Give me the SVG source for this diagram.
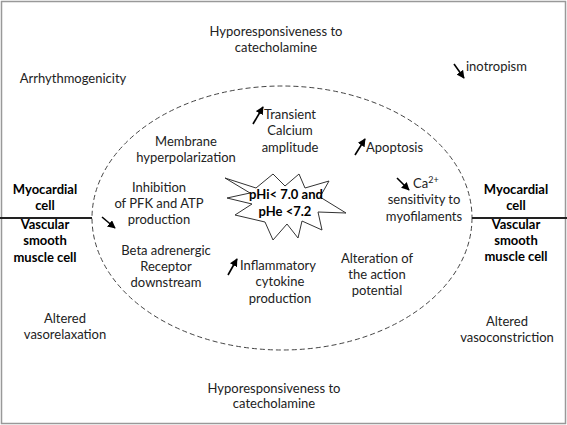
<svg xmlns="http://www.w3.org/2000/svg" width="567" height="425" viewBox="0 0 567 425">
<defs>
<marker id="ah" viewBox="0 0 10 10" refX="9" refY="5" markerWidth="5" markerHeight="5" orient="auto"><path d="M0,0 L10,5 L0,10 Z" fill="#000"/></marker>
<style>
text{font-family:Lato,"Liberation Sans",sans-serif;font-size:13px;fill:#222;text-anchor:middle}
.b{font-weight:bold;fill:#000}
.l{text-anchor:start}
.arr{stroke:#000;stroke-width:1.6;fill:none;marker-end:url(#ah)}
</style>
</defs>
<rect x="1.5" y="1.5" width="564" height="422" fill="#fff" stroke="#999" stroke-width="1.5"/>
<g id="connectors">
<ellipse cx="282" cy="218" rx="190" ry="132" fill="none" stroke="#444" stroke-width="1" stroke-dasharray="5,3"/>
<line x1="0" y1="218" x2="92" y2="218" stroke="#222" stroke-width="1.8"/>
<line x1="472" y1="218" x2="567" y2="218" stroke="#222" stroke-width="1.8"/>
<line class="arr" x1="454" y1="64" x2="464" y2="78"/>
<line class="arr" x1="253" y1="124" x2="263" y2="107"/>
<line class="arr" x1="355" y1="155" x2="365" y2="139"/>
<line class="arr" x1="102" y1="217" x2="115" y2="228"/>
<line class="arr" x1="397" y1="178" x2="409" y2="190"/>
<line class="arr" x1="228" y1="275" x2="237" y2="259"/>
</g>
<g id="top"><text x="276" y="36">Hyporesponsiveness to</text><text x="276" y="52">catecholamine</text></g>
<g id="arrhythmogenicity"><text x="73" y="83">Arrhythmogenicity</text></g>
<g id="inotropism"><text class="l" x="466" y="71">inotropism</text></g>
<g id="transient"><text x="290" y="119">Transient</text><text x="290" y="135">Calcium</text><text x="290" y="152">amplitude</text></g>
<g id="membrane"><text x="186" y="146">Membrane</text><text x="186" y="162">hyperpolarization</text></g>
<g id="apoptosis"><text class="l" x="366" y="152">Apoptosis</text></g>
<g id="inhibition"><text x="159" y="192">Inhibition</text><text x="159" y="208">of PFK and ATP</text><text x="159" y="224">production</text></g>
<g id="myo-left"><text class="b" x="45" y="194">Myocardial</text><text class="b" x="45" y="210">cell</text><text class="b" x="45" y="229">Vascular</text><text class="b" x="45" y="245">smooth</text><text class="b" x="45" y="262">muscle cell</text></g>
<g id="myo-right"><text class="b" x="516" y="194">Myocardial</text><text class="b" x="516" y="210">cell</text><text class="b" x="516" y="229">Vascular</text><text class="b" x="516" y="245">smooth</text><text class="b" x="516" y="261">muscle cell</text></g>
<g id="star">
<path d="M225,178 L256,188 L273,174 L285,186 L299,174 L305,188 L329,181 L320,197 L346,213 L318,212 L322,230 L302,221 L298,238 L287,224 L273,240 L265,222 L235,215 L252,204 L227,198 L250,193 Z" fill="#fff" stroke="#333" stroke-width="1"/>
<text class="b" x="286" y="199">pHi&lt; 7.0 and</text><text class="b" x="285" y="216">pHe &lt;7.2</text>
</g>
<g id="ca"><text class="l" x="413" y="188">Ca<tspan dy="-5" style="font-size:9px">2+</tspan></text><text x="424" y="204">sensitivity to</text><text x="424" y="221">myofilaments</text></g>
<g id="beta"><text x="166" y="255">Beta adrenergic</text><text x="166" y="271">Receptor</text><text x="166" y="287">downstream</text></g>
<g id="inflammatory"><text class="l" x="240" y="270">Inflammatory</text><text x="280" y="286">cytokine</text><text x="280" y="303">production</text></g>
<g id="alteration"><text x="377" y="263">Alteration of</text><text x="377" y="279">the action</text><text x="377" y="295">potential</text></g>
<g id="vasorelax"><text x="65" y="323">Altered</text><text x="65" y="339">vasorelaxation</text></g>
<g id="vasocon"><text x="507" y="326">Altered</text><text x="507" y="342">vasoconstriction</text></g>
<g id="bottom"><text x="274" y="393">Hyporesponsiveness to</text><text x="274" y="408">catecholamine</text></g>
</svg>
